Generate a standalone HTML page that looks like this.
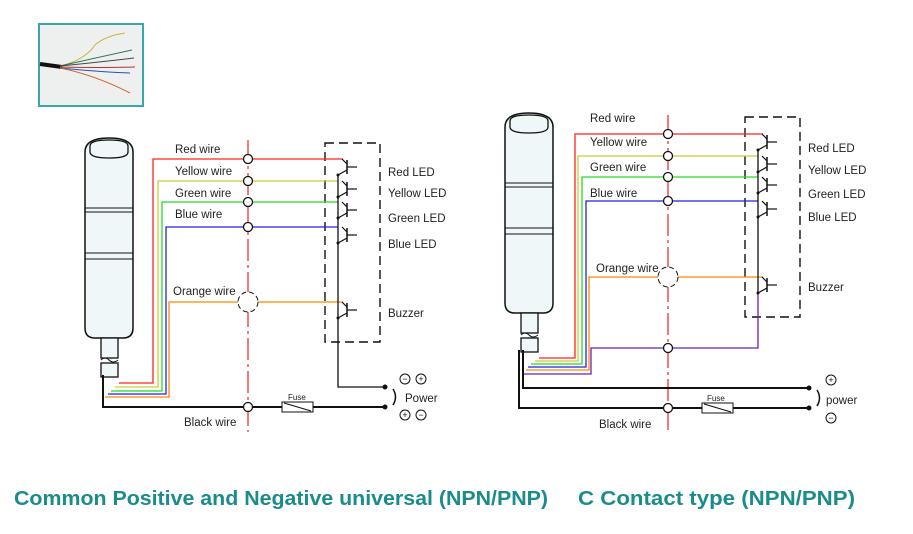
<!DOCTYPE html>
<html><head><meta charset="utf-8"><style>
body{margin:0;background:#fff;}
svg{display:block;font-family:"Liberation Sans",sans-serif;}
.l{font-size:11.5px;fill:#222;}
.t{font-size:20px;font-weight:bold;fill:#1a8c8c;}
</style></head><body>
<svg width="913" height="534" viewBox="0 0 913 534" xmlns="http://www.w3.org/2000/svg">
<defs>
<g id="tr">
<line x1="0" y1="0" x2="5" y2="5" stroke="#111" stroke-width="1.2"/>
<line x1="5" y1="1" x2="5" y2="15" stroke="#111" stroke-width="1.5"/>
<line x1="5" y1="8" x2="15" y2="8" stroke="#111" stroke-width="1.2"/>
<line x1="5" y1="11" x2="-4" y2="16" stroke="#111" stroke-width="1.2"/>
<circle cx="-4" cy="16" r="1.5" fill="#111"/>
</g>
<g id="tower">
<path d="M0,14 Q0,0 24,0 Q48,0 48,14 L48,190 Q48,200 38,200 L10,200 Q0,200 0,190 Z" fill="#f0f7f9" stroke="#111" stroke-width="1.5"/>
<path d="M5,8 Q5,2 24,2 Q43,2 43,8 L43,14 Q43,20 24,20 Q5,20 5,14 Z" fill="#f0f7f9" stroke="#111" stroke-width="1.3"/>
<line x1="0" y1="70" x2="48" y2="70" stroke="#111"/><line x1="0" y1="74" x2="48" y2="74" stroke="#111"/>
<line x1="0" y1="115" x2="48" y2="115" stroke="#111"/><line x1="0" y1="121" x2="48" y2="121" stroke="#111"/>
<rect x="16" y="200" width="17" height="20" fill="#f0f7f9" stroke="#111" stroke-width="1.3"/>
<path d="M16,222 q4,-4 8,0 q4,4 9,0" fill="none" stroke="#111"/>
<rect x="16" y="225" width="17" height="14" fill="#f0f7f9" stroke="#111" stroke-width="1.3"/>
</g>
</defs>

<!-- photo -->
<rect x="39" y="24" width="104" height="82" fill="#eef0f0" stroke="#3aa6a6" stroke-width="2"/>
<path d="M40,64 L62,67" stroke="#111" stroke-width="4"/>
<g fill="none" stroke-width="1">
<path d="M60,66 Q85,60 95,45 Q105,36 125,33" stroke="#c9b23a"/>
<path d="M60,66 Q95,58 132,50" stroke="#1f7d4e"/>
<path d="M60,66 Q100,62 134,58" stroke="#444"/>
<path d="M60,67 Q100,68 135,67" stroke="#a33"/>
<path d="M60,68 Q100,72 130,73" stroke="#2b4fb0"/>
<path d="M60,68 Q95,75 130,93" stroke="#d06a2a"/>
</g>

<!-- LEFT DIAGRAM -->
<use href="#tower" x="85" y="138"/>
<line x1="248" y1="140" x2="248" y2="432" stroke="#e33" stroke-width="1.3" stroke-dasharray="22,4,3,4"/>
<rect x="325" y="143" width="55" height="199" fill="none" stroke="#111" stroke-width="1.4" stroke-dasharray="9,5"/>
<g fill="none" stroke-width="1.3">
<polyline points="343,159 153,159 153,383 119,383" stroke="#f22"/>
<polyline points="338,181 158,181 158,387 115,387" stroke="#cc3"/>
<polyline points="338,202 162,202 162,391 111,391" stroke="#2d2"/>
<polyline points="338,227 166,227 166,394 108,394" stroke="#22d"/>
<polyline points="238,302 169,302 169,397 105,397" stroke="#f80"/>
<line x1="258" y1="302" x2="343" y2="302" stroke="#f80"/>
<polyline points="103,375 103,407 383,407" stroke="#111" stroke-width="2"/>
<polyline points="338,176 338,387 383,387" stroke="#111"/>
</g>
<circle cx="248" cy="302" r="10" fill="#fff" stroke="#111" stroke-dasharray="5,3"/>
<g fill="#fff" stroke="#111" stroke-width="1.3">
<circle cx="248" cy="159" r="4.5"/><circle cx="248" cy="181" r="4.5"/><circle cx="248" cy="202" r="4.5"/><circle cx="248" cy="227" r="4.5"/><circle cx="248" cy="407" r="4.5"/>
</g>
<use href="#tr" x="342" y="159"/><use href="#tr" x="342" y="181"/><use href="#tr" x="342" y="202"/><use href="#tr" x="342" y="227"/><use href="#tr" x="342" y="302"/>
<rect x="282" y="402" width="31" height="10" fill="#fff" stroke="#111"/><line x1="284" y1="403" x2="311" y2="411" stroke="#111"/>
<text x="288" y="400" style="font-size:8px" fill="#222">Fuse</text>
<circle cx="385" cy="387" r="2.5" fill="#111"/><circle cx="385" cy="407" r="2.5" fill="#111"/>
<path d="M393,389 Q398,397 393,405" fill="none" stroke="#111" stroke-width="1.5"/>
<g fill="none" stroke="#111"><circle cx="405" cy="379" r="5"/><circle cx="421" cy="379" r="5"/><circle cx="405" cy="415" r="5"/><circle cx="421" cy="415" r="5"/></g>
<g font-size="9" text-anchor="middle" fill="#111"><text x="405" y="382">−</text><text x="421" y="382">+</text><text x="405" y="418">+</text><text x="421" y="418">−</text></g>
<text class="l" x="405" y="402">Power</text>
<text class="l" x="175" y="153">Red wire</text><text class="l" x="175" y="175">Yellow wire</text><text class="l" x="175" y="197">Green wire</text><text class="l" x="175" y="218">Blue wire</text><text class="l" x="173" y="295">Orange wire</text><text class="l" x="184" y="426">Black wire</text>
<text class="l" x="388" y="176">Red LED</text><text class="l" x="388" y="197">Yellow LED</text><text class="l" x="388" y="222">Green LED</text><text class="l" x="388" y="248">Blue LED</text><text class="l" x="388" y="317">Buzzer</text>

<!-- RIGHT DIAGRAM -->
<use href="#tower" x="505" y="113"/>
<line x1="668" y1="115" x2="668" y2="430" stroke="#e33" stroke-width="1.3" stroke-dasharray="22,4,3,4"/>
<rect x="745" y="117" width="55" height="200" fill="none" stroke="#111" stroke-width="1.4" stroke-dasharray="9,5"/>
<g fill="none" stroke-width="1.3">
<polyline points="763,134 575,134 575,358 539,358" stroke="#f22"/>
<polyline points="758,156 578,156 578,361 535,361" stroke="#cc3"/>
<polyline points="758,177 582,177 582,364 531,364" stroke="#2d2"/>
<polyline points="758,201 586,201 586,367 528,367" stroke="#22d"/>
<polyline points="658,277 589,277 589,370 526,370" stroke="#f80"/>
<line x1="678" y1="277" x2="763" y2="277" stroke="#f80"/>
<polyline points="758,293 758,348 591,348 591,374 524,374" stroke="#62b"/>
<line x1="758" y1="151" x2="758" y2="293" stroke="#111"/>
<polyline points="523,350 523,388 807,388" stroke="#111" stroke-width="2"/>
<polyline points="519,350 519,408 807,408" stroke="#111" stroke-width="2"/>
</g>
<circle cx="668" cy="277" r="10" fill="#fff" stroke="#111" stroke-dasharray="5,3"/>
<g fill="#fff" stroke="#111" stroke-width="1.3">
<circle cx="668" cy="134" r="4.5"/><circle cx="668" cy="156" r="4.5"/><circle cx="668" cy="177" r="4.5"/><circle cx="668" cy="201" r="4.5"/><circle cx="668" cy="348" r="4.5"/><circle cx="668" cy="408" r="4.5"/>
</g>
<use href="#tr" x="762" y="134"/><use href="#tr" x="762" y="156"/><use href="#tr" x="762" y="177"/><use href="#tr" x="762" y="201"/><use href="#tr" x="762" y="277"/>
<rect x="702" y="403" width="31" height="10" fill="#fff" stroke="#111"/><line x1="704" y1="404" x2="731" y2="412" stroke="#111"/>
<text x="707" y="401" style="font-size:8px" fill="#222">Fuse</text>
<circle cx="809" cy="388" r="2.5" fill="#111"/><circle cx="809" cy="408" r="2.5" fill="#111"/>
<path d="M817,390 Q822,398 817,406" fill="none" stroke="#111" stroke-width="1.5"/>
<g fill="none" stroke="#111"><circle cx="831" cy="380" r="5"/><circle cx="831" cy="418" r="5"/></g>
<g font-size="9" text-anchor="middle" fill="#111"><text x="831" y="383">+</text><text x="831" y="421">−</text></g>
<text class="l" x="826" y="404">power</text>
<text class="l" x="590" y="122">Red wire</text><text class="l" x="590" y="146">Yellow wire</text><text class="l" x="590" y="171">Green wire</text><text class="l" x="590" y="197">Blue wire</text><text class="l" x="596" y="272">Orange wire</text><text class="l" x="599" y="428">Black wire</text>
<text class="l" x="808" y="152">Red LED</text><text class="l" x="808" y="174">Yellow LED</text><text class="l" x="808" y="198">Green LED</text><text class="l" x="808" y="221">Blue LED</text><text class="l" x="808" y="291">Buzzer</text>

<text class="t" x="14" y="505" textLength="534" lengthAdjust="spacingAndGlyphs">Common Positive and Negative universal (NPN/PNP)</text>
<text class="t" x="578" y="505" textLength="277" lengthAdjust="spacingAndGlyphs">C Contact type (NPN/PNP)</text>
</svg>
</body></html>
